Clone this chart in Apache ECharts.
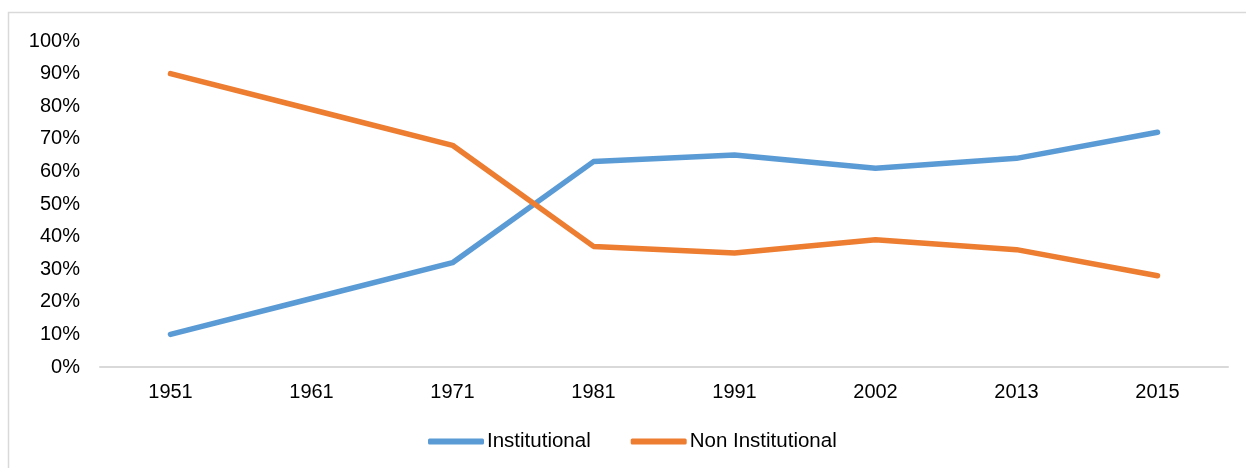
<!DOCTYPE html>
<html>
<head>
<meta charset="utf-8">
<script src="https://cdn.jsdelivr.net/npm/echarts@6/dist/echarts.min.js"></script>
<style>
html,body{margin:0;padding:0;background:#fff;}
#chart{width:1246px;height:468px;}
</style>
</head>
<body>
<div id="chart"></div>
<script>
const years = ['1951','1961','1971','1981','1991','2002','2013','2015'];
const institutional = [10, 21, 32, 63, 65, 61, 64, 72];
const nonInstitutional = [90, 79, 68, 37, 35, 39, 36, 28];
const yTicks = [0, 10, 20, 30, 40, 50, 60, 70, 80, 90, 100];

const FONT = '"Liberation Sans", Arial, sans-serif';
const chart = echarts.init(document.getElementById('chart'), null, {renderer: 'canvas'});
chart.setOption({
  backgroundColor: '#ffffff',
  animation: false,
  textStyle: {fontFamily: FONT},
  graphic: [{
    type: 'rect',
    shape: {x: 8.5, y: 12.5, width: 1300, height: 500},
    style: {fill: 'none', stroke: '#d9d9d9', lineWidth: 1.5},
    silent: true
  }],
  grid: {left: 100, right: 18, top: 41, bottom: 101, containLabel: false},
  legend: {
    left: 428,
    top: 431,
    padding: 0,
    icon: 'roundRect',
    itemWidth: 56,
    itemHeight: 6,
    itemGap: 40,
    textStyle: {fontFamily: FONT, fontSize: 20.5, color: '#000', padding: [0, 0, 0, -2]},
    data: ['Institutional', 'Non Institutional']
  },
  xAxis: {
    type: 'category',
    data: years,
    boundaryGap: true,
    axisLine: {lineStyle: {color: '#d9d9d9', width: 2}},
    axisTick: {show: false},
    axisLabel: {color: '#000', fontSize: 20, fontFamily: FONT, margin: 15}
  },
  yAxis: {
    type: 'value',
    min: yTicks[0],
    max: yTicks[yTicks.length - 1],
    interval: 10,
    axisLine: {show: false},
    axisTick: {show: false},
    splitLine: {show: false},
    axisLabel: {color: '#000', fontSize: 20, fontFamily: FONT, margin: 20, formatter: '{value}%'}
  },
  series: [
    {
      name: 'Institutional',
      type: 'line',
      data: institutional,
      symbol: 'none',
      color: '#5b9bd5',
      lineStyle: {width: 5.5, color: '#5b9bd5', cap: 'round', join: 'round'}
    },
    {
      name: 'Non Institutional',
      type: 'line',
      data: nonInstitutional,
      symbol: 'none',
      color: '#ed7d31',
      lineStyle: {width: 5.5, color: '#ed7d31', cap: 'round', join: 'round'}
    }
  ]
});
</script>
</body>
</html>
